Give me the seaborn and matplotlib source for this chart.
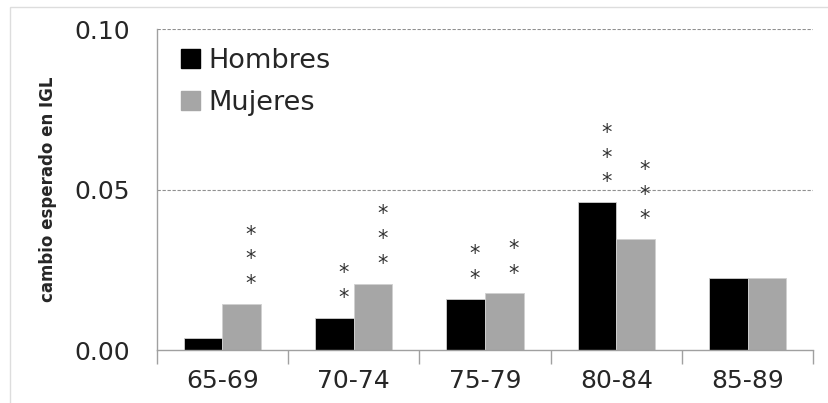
import matplotlib
matplotlib.use("Agg")
import matplotlib.pyplot as plt
import matplotlib.patches as mpatches
from matplotlib.ticker import FixedLocator
import pandas as pd
import seaborn as sns

# datos
grupos = ["65-69", "70-74", "75-79", "80-84", "85-89"]
hombres = [0.0037, 0.0100, 0.0160, 0.0461, 0.0224]
mujeres = [0.0144, 0.0207, 0.0177, 0.0346, 0.0224]
estrellas_h = [0, 2, 2, 3, 0]
estrellas_m = [3, 3, 2, 3, 0]

df = pd.DataFrame({
    "grupo": grupos * 2,
    "valor": hombres + mujeres,
    "sexo": ["Hombres"] * 5 + ["Mujeres"] * 5,
})

sns.set_style("white")
plt.rcParams["font.family"] = ["DejaVu Sans"]

fig = plt.figure(figsize=(8.29, 4.03), dpi=100)
ax = fig.add_axes([0.189, 0.1315, 0.792, 0.7965])

colores = {"Hombres": "#000000", "Mujeres": "#a6a6a6"}
sns.barplot(data=df, x="grupo", y="valor", hue="sexo", palette=colores,
            width=0.59, ax=ax, edgecolor="#d0d0d0", linewidth=0.6, legend=False)

ax.set_ylim(0, 0.1)
ax.set_xlim(-0.5, 4.5)
ax.set_yticks([0, 0.05, 0.10])
ax.set_yticklabels(["0.00", "0.05", "0.10"], fontsize=18)
ax.tick_params(axis="y", length=9, color="#a0a0a0", width=1, pad=10)
ax.tick_params(axis="x", which="major", length=0, labelsize=18, pad=14)
ax.xaxis.set_minor_locator(FixedLocator([-0.5, 0.5, 1.5, 2.5, 3.5, 4.5]))
ax.tick_params(axis="x", which="minor", length=10, color="#a0a0a0", width=1, bottom=True)
for y in [0.05, 0.10]:
    ax.axhline(y, color="#909090", linestyle=(0, (3, 1.5)), linewidth=0.8, zorder=0)

for s in ["top", "right"]:
    ax.spines[s].set_visible(False)
for s in ["left", "bottom"]:
    ax.spines[s].set_color("#a0a0a0")
    ax.spines[s].set_linewidth(1)

ax.set_xlabel("")
ax.set_ylabel("cambio esperado en IGL", fontsize=12, fontweight="bold", labelpad=13)

# asteriscos
off = 0.59 / 4
for i in range(len(grupos)):
    for n, v, dx in [(estrellas_h[i], hombres[i], -off), (estrellas_m[i], mujeres[i], off)]:
        if n:
            ax.text(i + dx + 0.07, v + 0.003, "\n".join(["*"] * n), ha="center", va="bottom",
                    fontsize=15, color="#333333", linespacing=1.3)

handles = [mpatches.Patch(color=colores[k], label=k) for k in ["Hombres", "Mujeres"]]
ax.legend(handles=handles, loc="upper left", bbox_to_anchor=(0.0, 1.017), frameon=False,
          fontsize=19.5, handlelength=0.7, handleheight=0.7, handletextpad=0.3,
          labelspacing=0.6)

fig.patches.append(mpatches.Rectangle((0.012, -0.05), 1.1, 1.032, transform=fig.transFigure,
                                      fill=False, edgecolor="#dddddd", linewidth=1))

fig.savefig("out.png", dpi=100)
